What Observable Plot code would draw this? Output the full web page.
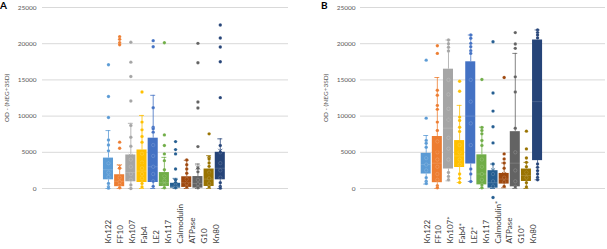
<!DOCTYPE html>
<html>
<head>
<meta charset="utf-8">
<script src="https://cdn.jsdelivr.net/npm/d3@7"></script>
<script src="https://cdn.jsdelivr.net/npm/@observablehq/plot@0.6"></script>
<style>
  html, body { margin: 0; padding: 0; background: #fff; }
  #wrap { position: relative; width: 607px; height: 249px; overflow: hidden; font-family: Lato, "Open Sans", sans-serif; }
  .panel { position: absolute; top: 0; }
  .letter { position: absolute; top: 0px; font: bold 10px/10px Lato, sans-serif; color: #000; }
</style>
</head>
<body>
<div id="wrap"></div>
<script>
// Series colours (Excel palette), one per box
const seriesColors = ["#5B9BD5","#ED7D31","#A5A5A5","#FFC000","#4472C4","#70AD47","#255E91","#9E480E","#636363","#997300","#264478"];

// Category labels
const labelsA = ["Kn122","FF10","Kn107","Fab4","LE2","Kn117","Calmodulin","ATPase","G10","Kn80"];
const labelsB = ["Kn122","FF10","Kn107*","Fab4*","LE2*","Kn117","Calmodulin*","ATPase","G10*","Kn80"];
const yTitle = "OD - (NEG+3SD)";
const yTicks = [0, 5000, 10000, 15000, 20000, 25000];

// Panel A box statistics
const loA   = [0,    0,    0,    0,     0,     0,    0,    0,    0,    0,    0];
const q1A   = [1200, 250,  930,  830,   830,   280,  50,   150,  50,   280,  1200];
const medA  = [2600, 1000, 2200, 2400,  3000,  800,  300,  800,  700,  1300, 2800];
const q3A   = [4200, 1900, 4630, 5320,  6950,  2200, 720,  1620, 1650, 2690, 5000];
const hiA   = [8000, 3250, 9000, 10090, 12870, 4300, 1400, 3900, 3380, 4540, 6860];
const meanA = [3900, 3050, 4500, 3400,  5000,  1800, 1000, 1100, 2900, 1900, 5200];
const pointsA = [
  [17100, 12700, 9800, 6700, 6000, 5200, 3500, 2200, 1600, 700, 250, 50],
  [20970, 20600, 20140, 19860, 6400, 5560, 2800, 1500, 900, 500, 100],
  [20190, 17450, 15460, 12080, 8700, 7080, 5830, 4000, 3000, 2000, 1200, 500, 0],
  [13330, 9170, 8100, 7180, 6390, 4800, 3600, 2800, 2000, 1400, 700, 200],
  [20420, 19580, 11160, 8470, 8240, 7780, 6000, 4500, 3000, 2000, 1000, 300],
  [20140, 7400, 5930, 4780, 3850, 2600, 1700, 1100, 500, 100],
  [6480, 5370, 4780, 2690, 1200, 800, 400, 100],
  [3940, 3290, 2690, 2100, 1300, 700, 200],
  [20050, 17360, 11950, 11110, 5790, 2800, 2300, 1200, 600, 100],
  [7550, 4310, 4080, 3520, 3060, 2200, 1400, 700, 200],
  [22590, 20790, 19540, 17500, 12550, 5930, 5000, 3500, 2500, 1500, 800, 300, 50]
];

// Panel B box statistics
const loB   = [610,  0,     1060,  830,   970,   0,    0,    100,   0,     0,    1200];
const q1B   = [2000, 800,   2690,  2900,  3380,  500,  50,   610,   230,   970,  3850];
const medB  = [3300, 3500,  8330,  4500,  10000, 2000, 800,  1300,  3500,  1800, 12000];
const q3B   = [4860, 7180,  16480, 6620,  17500, 4650, 2460, 2080,  7850,  2690, 20510];
const hiB   = [7320, 15330, 20510, 11480, 21200, 8470, 3380, 3520,  18660, 3610, 21900];
const meanB = [4600, 5200,  9500,  5200,  11000, 3500, 2500, 2000,  6000,  2300, 12500];
const pointsB = [
  [17730, 9720, 6620, 6250, 5690, 4200, 3300, 2500, 1500, 1000, 700],
  [19720, 18660, 13570, 12870, 11480, 10930, 9170, 8010, 6500, 5000, 4000, 3000, 2000, 1200, 370, 100],
  [20510, 20000, 19500, 19000, 15000, 13000, 11000, 9500, 7000, 5500, 4000, 2220, 1670, 1200],
  [14820, 13430, 9860, 9400, 8470, 7870, 6000, 5000, 4000, 3300, 2000, 1400, 830],
  [21200, 20750, 20050, 19580, 19020, 18660, 15000, 12000, 9000, 6000, 2690, 2000, 970],
  [15050, 8430, 8010, 7550, 6620, 5930, 4000, 3000, 2000, 1200, 500, 100],
  [20270, 13190, 10690, 8530, 6300, 3380, 2000, 1000, 300, -1250],
  [15330, 4780, 4080, 3520, 2800, 1500, 900, 300],
  [21530, 19960, 19360, 15420, 13330, 8330, 5000, 2500, 1000, 230],
  [7920, 5470, 4220, 3610, 3000, 2200, 1500, 800, 200],
  [21900, 21530, 21200, 20800, 3380, 2920, 2460, 2000, 1530, 1200]
];

function panel({labels, lo, q1, med, q3, hi, mean, pts, width, marginLeft, marginRight, tickPad, titleDx, labelStep, labelShift}) {
  const rows = d3.range(seriesColors.length).map(i => ({
    i, lo: lo[i], q1: q1[i], med: med[i], q3: q3[i], hi: hi[i], mean: mean[i], color: seriesColors[i]
  }));
  const dots = pts.flatMap((arr, i) => arr.map(v => ({i, v, color: seriesColors[i]})));
  const labelRows = labels.map((name, j) => ({name, pos: labelShift + j * labelStep}));
  const half = 0.45, cap = 0.22;
  return Plot.plot({
    width, height: 249,
    marginTop: 7, marginBottom: 61, marginLeft, marginRight,
    style: {fontFamily: "Lato, 'Open Sans', sans-serif", background: "transparent", overflow: "visible"},
    x: {domain: [-5.9, 16.1], axis: null},
    y: {domain: [0, 25000], ticks: yTicks, tickSize: 0, tickPadding: tickPad, label: null, tickFormat: d => String(d)},
    color: {type: "identity"},
    marks: [
      Plot.ruleY(yTicks, {stroke: "#d9d9d9", strokeWidth: 1}),
      Plot.axisY({ticks: yTicks, tickSize: 0, tickPadding: tickPad, fontSize: 6.5, fill: "#595959", label: null, tickFormat: d => String(d)}),
      Plot.ruleX(rows, {x: "i", y1: "q3", y2: "hi", stroke: "color", strokeWidth: 0.8}),
      Plot.ruleX(rows, {x: "i", y1: "lo", y2: "q1", stroke: "color", strokeWidth: 0.8}),
      Plot.ruleY(rows, {y: "hi", x1: d => d.i - cap, x2: d => d.i + cap, stroke: "color", strokeWidth: 0.8}),
      Plot.ruleY(rows, {y: "lo", x1: d => d.i - cap, x2: d => d.i + cap, stroke: "color", strokeWidth: 0.8}),
      Plot.rectY(rows, {x1: d => d.i - half, x2: d => d.i + half, y1: "q1", y2: "q3", fill: "color"}),
      Plot.ruleY(rows, {y: "med", x1: d => d.i - half, x2: d => d.i + half, stroke: "white", strokeOpacity: 0.2, strokeWidth: 0.8}),
      Plot.dot(dots, {x: "i", y: "v", r: 1.7, fill: "color", stroke: "white", strokeOpacity: 0.3, strokeWidth: 0.5}),
      Plot.dot(rows, {x: "i", y: "mean", symbol: "times", r: 2, stroke: "color", strokeWidth: 0.8}),
      Plot.text(labelRows, {x: "pos", text: "name", frameAnchor: "bottom", dy: 55, rotate: -90, textAnchor: "start", lineAnchor: "middle", fontSize: 8, fill: "#404040"}),
      Plot.text([yTitle], {frameAnchor: "left", dx: titleDx, rotate: -90, textAnchor: "middle", lineAnchor: "middle", fontSize: 6.5, fill: "#595959"})
    ]
  });
}

const wrap = document.getElementById("wrap");

const a = panel({labels: labelsA, lo: loA, q1: q1A, med: medA, q3: q3A, hi: hiA, mean: meanA, pts: pointsA,
  width: 303, marginLeft: 42, marginRight: 15, tickPad: 6, titleDx: -36, labelStep: 1.07, labelShift: 0});
const divA = document.createElement("div"); divA.className = "panel"; divA.style.left = "0px"; divA.appendChild(a);
wrap.appendChild(divA);

const b = panel({labels: labelsB, lo: loB, q1: q1B, med: medB, q3: q3B, hi: hiB, mean: meanB, pts: pointsB,
  width: 304, marginLeft: 57, marginRight: 2, tickPad: 5, titleDx: -35, labelStep: 1.062, labelShift: 0.08});
const divB = document.createElement("div"); divB.className = "panel"; divB.style.left = "303px"; divB.appendChild(b);
wrap.appendChild(divB);

const la = document.createElement("div"); la.className = "letter"; la.style.left = "0px"; la.textContent = "A"; wrap.appendChild(la);
const lb = document.createElement("div"); lb.className = "letter"; lb.style.left = "321px"; lb.textContent = "B"; wrap.appendChild(lb);
</script>
</body>
</html>
